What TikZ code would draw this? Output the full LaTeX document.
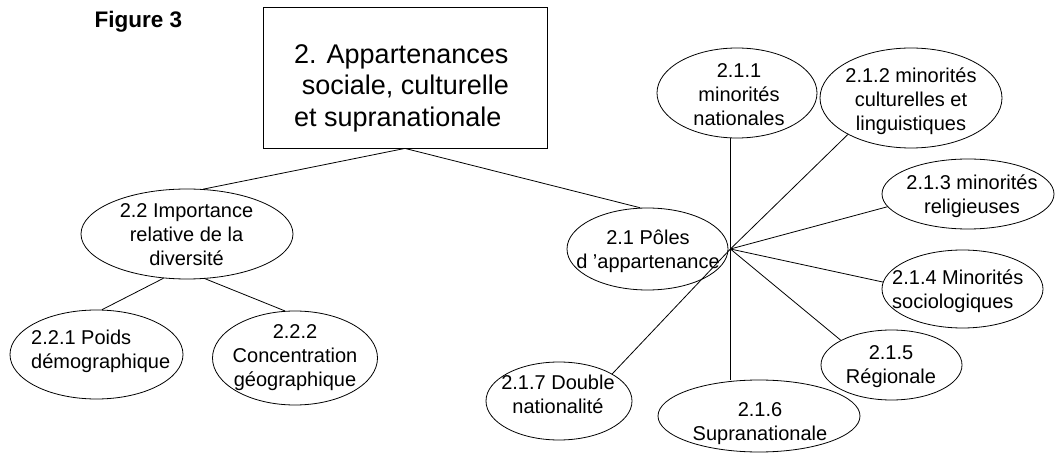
\documentclass[tikz,border=0pt]{standalone}
\usepackage{fontspec}
\setmainfont{Liberation Sans}
\usetikzlibrary{shapes.geometric}
\tikzset{
  ell/.style={draw, ellipse, inner sep=0pt, line width=0.8pt},
  txt/.style={font=\fontsize{20}{24}\selectfont, align=center, inner sep=0pt},
  txtl/.style={font=\fontsize{20}{24}\selectfont, align=left, inner sep=0pt, anchor=west},
  boxtxt/.style={font=\fontsize{27}{31.5}\selectfont, align=left, inner sep=0pt, anchor=west},
  link/.style={draw, line width=0.8pt}
}
\begin{document}
\begin{tikzpicture}[x=1pt,y=-1pt]
\fill[white] (0,0) rectangle (1055,462);
\useasboundingbox (0,0) rectangle (1055,462);

% title
\node[font=\bfseries\fontsize{22.5}{26}\selectfont, anchor=base, inner sep=0pt] (fig) at (138.5,27.5) {Figure 3};

% root box
\node[draw, line width=0.8pt, minimum width=284pt, minimum height=141pt, inner sep=0pt] (box) at (405,77.5) {};
\node[boxtxt] (tbox) at (294,88.5) {2. Appartenances\strut\\\hspace*{0.28em}sociale, culturelle\strut\\et supranationale\strut};

% ellipses
\node[ell, minimum width=212pt, minimum height=90pt] (e22) at (187,234) {};
\node[ell, minimum width=173pt, minimum height=89pt] (e221) at (96.5,354.5) {};
\node[ell, minimum width=165pt, minimum height=94pt] (e222) at (295,358) {};
\node[ell, minimum width=161pt, minimum height=82pt] (e21) at (647.5,249) {};
\node[ell, minimum width=160pt, minimum height=90pt] (e211) at (737,93) {};
\node[ell, minimum width=182pt, minimum height=100pt] (e212) at (911,98) {};
\node[ell, minimum width=172pt, minimum height=70pt] (e213) at (968,194) {};
\node[ell, minimum width=161pt, minimum height=78pt] (e214) at (962.5,289) {};
\node[ell, minimum width=141pt, minimum height=70pt] (e215) at (891.5,365) {};
\node[ell, minimum width=202pt, minimum height=72pt] (e216) at (759,416) {};
\node[ell, minimum width=146pt, minimum height=78pt] (e217) at (559,401) {};

% texts
\node[txt] (t22) at (186.5,236.4) {2.2 Importance\strut\\relative de la\strut\\diversité\strut};
\node[txtl] (t221) at (31,351.9) {2.2.1 Poids\strut\\démographique\strut};
\node[txt] (t222) at (295,357.4) {2.2.2\strut\\Concentration\strut\\géographique\strut};
\node[txt] (t21) at (648,251.4) {2.1 Pôles\strut\\d 'appartenance\strut};
\node[txt] (t211) at (739,96.4) {2.1.1\strut\\minorités\strut\\nationales\strut};
\node[txt] (t212) at (911,101.4) {2.1.2 minorités\strut\\culturelles et\strut\\linguistiques\strut};
\node[txt] (t213) at (972,196.9) {2.1.3 minorités\strut\\religieuses\strut};
\node[txtl] (t214) at (892,291.4) {2.1.4 Minorités\strut\\sociologiques\strut};
\node[txt] (t215) at (891,366.9) {2.1.5\strut\\Régionale\strut};
\node[txt] (t216) at (760,423.9) {2.1.6\strut\\Supranationale\strut};
\node[txt] (t217) at (558,396.9) {2.1.7 Double\strut\\nationalité\strut};

% hub
\coordinate (hub) at ([xshift=2pt]e21.east);

% connectors
\draw[link] (box.south) -- (e22.70);
\draw[link] (box.south) -- (e21.100);
\draw[link] (e22.242) -- (e221.83);
\draw[link] (e22.292) -- (e222.102);
\draw[link] (hub) -- (hub |- e211.south);
\draw[link] (hub) -- (e212.210);
\draw[link] (hub) -- (e213.189);
\draw[link] (hub) -- (e214.175);
\draw[link] (hub) -- (e215.154);
\draw[link] (hub) -- (hub |- e216.north);
\draw[link] (hub) -- (e217.27);
\end{tikzpicture}
\end{document}
